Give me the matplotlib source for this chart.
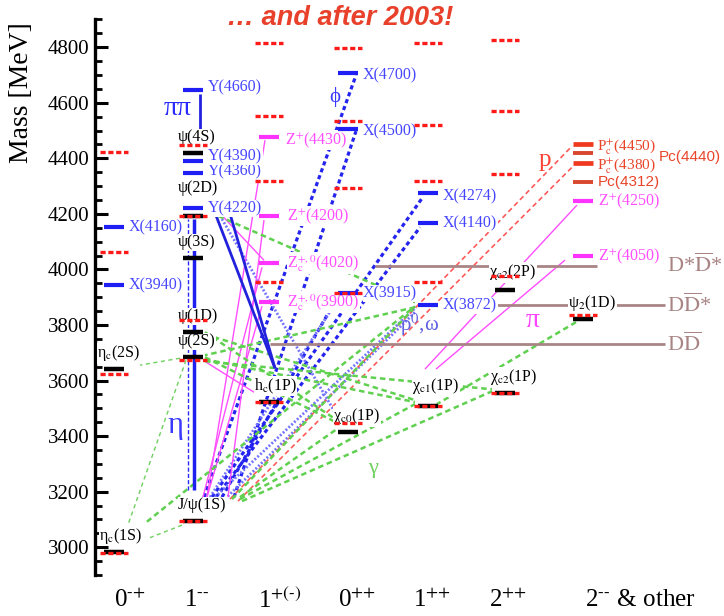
import matplotlib
matplotlib.use('Agg')
import matplotlib.pyplot as plt
from matplotlib.ticker import MultipleLocator

plt.rcParams['font.family'] = ['Liberation Serif', 'DejaVu Serif']
plt.rcParams['mathtext.fontset'] = 'stix'

# ------------------------------------------------------------------ data
categories = ['0-+', '1--', '1+-', '0++', '1++', '2++', '2--']
category_labels = ['0$^{\\text{-+}}$', '1$^{\\text{--}}$', '1$^{\\text{+(-)}}$', '0$^{\\text{++}}$',
                   '1$^{\\text{++}}$', '2$^{\\text{++}}$', '2$^{\\text{--}}$ & other']

# predicted (potential-model) levels, red dashed
pred_jpc = ['0-+', '0-+', '0-+', '0-+',
            '1--', '1--', '1--', '1--', '1--',
            '1+-', '1+-', '1+-', '1+-', '1+-',
            '0++', '0++', '0++', '0++', '0++',
            '1++', '1++', '1++', '1++', '1++',
            '2++', '2++', '2++', '2++', '2++',
            '2--']
pred_mass = [2978, 3623, 4062, 4422,
             3094, 3673, 3817, 4192, 4447,
             3522, 3954, 4318, 4552, 4814,
             3446, 3914, 4292, 4534, 4796,
             3508, 3954, 4318, 4519, 4814,
             3554, 3976, 4343, 4570, 4825,
             3835]

# observed states
state_names = ['etac1S', 'etac2S', 'X3940', 'X4160',
               'Jpsi', 'psi2S', 'psi1D', 'psi3S', 'psi4160', 'psi4S',
               'Y4220', 'Y4360', 'Y4390', 'Y4660',
               'hc', 'Zc3900', 'Zc4020', 'Z4200', 'Z4430',
               'chic0', 'X3915', 'X4500', 'X4700',
               'chic1', 'X3872', 'X4140', 'X4274',
               'chic2_1P', 'chic2_2P',
               'psi2_1D', 'Z4050', 'Z4250', 'Pc4312', 'Pc4380', 'Pc4440', 'Pc4450']
state_labels = ['η$_\\mathrm{c}$(1S)', 'η$_\\mathrm{c}$(2S)', 'X(3940)', 'X(4160)',
                'J/ψ(1S)', 'ψ(2S)', 'ψ(1D)', 'ψ(3S)', 'ψ(2D)', 'ψ(4S)',
                'Y(4220)', 'Y(4360)', 'Y(4390)', 'Y(4660)',
                'h$_\\mathrm{c}$(1P)', 'Z$_\\mathrm{c}^{+,0}$(3900)', 'Z$_\\mathrm{c}^{+,0}$(4020)',
                'Z$^{+}$(4200)', 'Z$^{+}$(4430)',
                'χ$_\\mathrm{c0}$(1P)', 'X(3915)', 'X(4500)', 'X(4700)',
                'χ$_\\mathrm{c1}$(1P)', 'X(3872)', 'X(4140)', 'X(4274)',
                'χ$_\\mathrm{c2}$(1P)', 'χ$_\\mathrm{c2}$(2P)',
                'ψ$_2$(1D)', 'Z$^{+}$(4050)', 'Z$^{+}$(4250)', 'Pc(4312)',
                'P$_\\mathrm{c}^{+}$(4380)', 'Pc(4440)', 'P$_\\mathrm{c}^{+}$(4450)']
state_mass = [2984, 3641, 3943, 4152,
              3094, 3684, 3774, 4040, 4192, 4418,
              4220, 4346, 4390, 4645,
              3522, 3882, 4022, 4192, 4476,
              3414, 3914, 4505, 4706,
              3508, 3871, 4166, 4274,
              3554, 3925,
              3821, 4048, 4246, 4314, 4382, 4418, 4451]
state_jpc = ['0-+'] * 4 + ['1--'] * 10 + ['1+-'] * 5 + ['0++'] * 4 + ['1++'] * 4 + \
            ['2++'] * 2 + ['2--'] * 7
state_kind = ['cc', 'cc', 'X', 'X',
              'cc', 'cc', 'cc', 'cc', 'cc', 'cc',
              'X', 'X', 'X', 'X',
              'cc', 'Z', 'Z', 'Z', 'Z',
              'cc', 'X', 'X', 'X',
              'cc', 'X', 'X', 'X',
              'cc', 'cc',
              'cc', 'Z', 'Z', 'Pc2', 'Pc', 'Pc2', 'Pc']

threshold_labels = ['D$\\overline{\\mathrm{D}}$', 'D$\\overline{\\mathrm{D}}$*',
                    'D*$\\overline{\\mathrm{D}}$*']
threshold_mass = [3731, 3871, 4014]

# transitions: (from, to, type)
transitions = [
    ('Jpsi', 'X4700', 'phi'), ('Jpsi', 'X4500', 'phi'), ('Jpsi', 'X4274', 'phi'),
    ('Jpsi', 'X4140', 'phi'), ('Jpsi', 'X3915', 'phi'),
    ('Jpsi', 'X3872', 'rho'), ('Jpsi', 'X3872', 'rho'), ('Jpsi', 'X3915', 'rho'),
    ('Y4220', 'chic0', 'rho'),
    ('Jpsi', 'Pc4450', 'p'), ('Jpsi', 'Pc4380', 'p'),
    ('Jpsi', 'Z4430', 'pi'), ('Jpsi', 'Z4200', 'pi'), ('Jpsi', 'Zc3900', 'pi'),
    ('Jpsi', 'Zc4020', 'pi'), ('psi2S', 'hc', 'pi'), ('Y4220', 'Zc4020', 'pi'),
    ('Z4250', 'chic1', 'pi'), ('Z4050', 'chic1', 'pi'),
    ('Jpsi', 'etac1S', 'gam_thin'), ('psi2S', 'etac1S', 'gam_thin'),
    ('psi2S', 'etac2S', 'gam_thin'), ('etac1S', 'X3872', 'gam'),
    ('Jpsi', 'chic0', 'gam'), ('Jpsi', 'chic1', 'gam'), ('Jpsi', 'chic2_1P', 'gam'),
    ('Jpsi', 'X3872', 'gam'),
    ('psi2S', 'chic0', 'gam'), ('psi2S', 'chic1', 'gam'), ('psi2S', 'chic2_1P', 'gam'),
    ('psi1D', 'chic0', 'gam'), ('psi1D', 'chic1', 'gam'),
    ('X3872', 'psi2S', 'gam'), ('Y4220', 'X3872', 'gam'), ('psi2_1D', 'chic1', 'gam'),
    ('Y4220', 'hc', 'pipi'), ('Y4220', 'hc', 'pipi'),
    ('Jpsi', 'psi4160', 'eta_dash'), ('Jpsi', 'psi4160', 'eta_solid'),
    ('Y4660', 'psi4S', 'pipi'),
]

# ------------------------------------------------------------------ layout
PX = 3.6                      # MeV per pixel (vertical)
col_x = {'0-+': 114, '1--': 193, '1+-': 269, '0++': 348,
         '1++': 428, '2++': 505, '2--': 583}
bar_half = 10
pred_half = 14
# endpoint offsets (dx px, dy px up) for from / to
trans_offsets = [
    (11, 24, 8, -2), (41, 24, 8, -2), (19, 24, -6, -5), (23, 24, -8, -4), (29, 24, -10, -3),
    (22, 24, -12, -2), (32, 22, -12, -6), (17, 24, -10, -6), (25, -4, -5, 6),
    (37, 22, -11, -2), (45, 20, -11, -4),
    (14, 24, -4, -3), (35, 24, -5, -4), (14, 24, -7, -4), (10, 24, -7, -4),
    (10, -3, -15, 10), (26, -4, -5, 3), (-6, -4, -3, 37), (-18, -4, 8, 37),
    (-11, -4, 36, 14), (-7, -3, 13, 24), (-13, -1, 26, 4), (33, 30, -13, -1),
    (47, 24, -10, 4), (47, 22, -13, 2), (49, 20, -13, 2), (39, 22, -15, -4),
    (12, 0, -8, 8), (12, -2, -13, 4), (12, -4, -13, 4),
    (12, 0, -8, 10), (12, -2, -13, 6),
    (-13, -2, 12, 2), (17, -4, -13, 3), (-7, -3, 9, 2),
    (21, -2, 6, 34), (36, -2, 6, 34),
    (-5, 31, -5, -3), (1, 31, 1, -3),
    (7, -4, 7, 23),
]
trans_style = {
    'phi': dict(color='#2424ee', lw=2.3, ls=(0, (1.3, 1.0))),
    'rho': dict(color='#7373ff', lw=2.0, ls=(0, (0.7, 0.7))),
    'p': dict(color='#ff5a5a', lw=1.2, ls=(0, (3, 2))),
    'pi': dict(color='#ff4dff', lw=1.0, ls='-'),
    'gam': dict(color='#5fd04f', lw=1.8, ls=(0, (2.2, 1.5))),
    'gam_thin': dict(color='#6fd060', lw=1.0, ls=(0, (3, 2.5))),
    'pipi': dict(color='#2222dd', lw=2.0, ls='-'),
    'eta_dash': dict(color='#2a2aff', lw=1.0, ls=(0, (3, 1.5))),
    'eta_solid': dict(color='#1f1ff0', lw=2.5, ls='-'),
}
kind_bar = {'cc': ('black', 3.2), 'X': ('#1f1ff5', 3.0), 'Z': ('#ff33ff', 3.0),
            'Pc': ('#f03a20', 3.4), 'Pc2': ('#d8472e', 2.8)}
kind_text = {'cc': 'black', 'X': '#4646ff', 'Z': '#ff4dff', 'Pc': '#e8452a', 'Pc2': '#e8452a'}
label_exc = {'psi4160': (-15, 28), 'Y4360': (15, 2), 'Y4390': (15, 5), 'Y4660': (15, 3),
             'Z4430': (16, -3), 'Pc4450': (14, -3), 'Pc4380': (14, -3), 'Pc4440': (76, -4),
             'X4700': (15, -2), 'X4500': (15, -2), 'X4274': (15, -3), 'etac2S': (-17, 16),
             'Zc3900': (18, 0), 'Zc4020': (18, 0), 'Z4200': (18, 0), 'X3872': (15, 0),
             'chic1': (-16, 20), 'chic2_2P': (-16, 18)}

state_x = {n: col_x[j] for n, j in zip(state_names, state_jpc)}
state_m = dict(zip(state_names, state_mass))

# ------------------------------------------------------------------ figure
fig = plt.figure(figsize=(7.24, 6.16), dpi=100)
ax = fig.add_axes([95 / 724, 1 - 575 / 616, 1 - 95 / 724, (575 - 19.4) / 616])
ax.set_xlim(95, 724)
ax.set_ylim(2900, 4900)
for s in ['top', 'right', 'bottom']:
    ax.spines[s].set_visible(False)
ax.spines['left'].set_linewidth(2.4)
ax.set_xticks([])
ax.yaxis.set_major_locator(MultipleLocator(200))
ax.yaxis.set_minor_locator(MultipleLocator(50))
ax.tick_params(axis='y', which='major', direction='in', length=9, width=2.2,
               labelsize=15, pad=4)
ax.tick_params(axis='y', which='minor', direction='in', length=5, width=2.0)


def pt(name, dx, dy):
    return state_x[name] + dx, state_m[name] + dy * PX


# transitions
for (a, b, t), (dxa, dya, dxb, dyb) in zip(transitions, trans_offsets):
    xa, ya = pt(a, dxa, dya)
    xb, yb = pt(b, dxb, dyb)
    st = trans_style[t]
    ax.plot([xa, xb], [ya, yb], color=st['color'], lw=st['lw'], ls=st['ls'],
            zorder=1, solid_capstyle='butt', dash_capstyle='butt')

# thresholds
thr_x = [(270, 665), (443, 665), (375, 597)]
for (x0, x1), m, lab in zip(thr_x, threshold_mass, threshold_labels):
    ax.plot([x0, x1], [m, m], color='#a88484', lw=2.0, zorder=2, solid_capstyle='butt')
    ax.text(667, m, lab, color='#a88484', fontsize=16, va='center', ha='left',
            clip_on=False, zorder=3)

# labels of states
bb = dict(facecolor='white', edgecolor='none', pad=0.3)
for n, lab, k in zip(state_names, state_labels, state_kind):
    if n in label_exc:
        dx, dy = label_exc[n]
    elif k == 'cc':
        dx, dy = -15, 16
    else:
        dx, dy = bar_half + 5, 0
    fam = ['Liberation Sans'] if lab.startswith('Pc') else ['Liberation Serif', 'DejaVu Serif']
    fs = 11.0 if k in ('Pc', 'Pc2') else 11.5
    ax.text(state_x[n] + dx, state_m[n] + dy * PX, lab, color=kind_text[k],
            fontsize=fs, family=fam, ha='left', va='center', bbox=bb, zorder=3,
            clip_on=False)

# observed bars
for n, k in zip(state_names, state_kind):
    c, lw = kind_bar[k]
    x = state_x[n]
    ax.plot([x - bar_half, x + bar_half], [state_m[n]] * 2, color=c, lw=lw,
            solid_capstyle='butt', zorder=4)

# predicted levels
for j, m in zip(pred_jpc, pred_mass):
    x = col_x[j]
    ax.plot([x - pred_half, x + pred_half], [m, m], color='#ff1a1a', lw=2.4,
            ls=(0, (1.55, 0.8)), zorder=5, dash_capstyle='butt')

# transition-type labels
ax.text(175, 3000 + (547 - 425) * PX, 'η', color='#3a3aff', fontsize=22, ha='center', va='center')
ax.text(178, 3000 + (547 - 108) * PX, 'ππ', color='#2a2aff', fontsize=20, ha='center', va='center')
ax.text(335, 3000 + (547 - 97) * PX, 'ϕ', color='#3a3aff', fontsize=15, ha='center', va='center')
ax.text(373, 3000 + (547 - 468) * PX, 'γ', color='#6fd060', fontsize=16, ha='center', va='center')
ax.text(533, 3000 + (547 - 320) * PX, 'π', color='#ff44ff', fontsize=20, ha='center', va='center')
ax.text(545, 3000 + (547 - 160) * PX, 'p', color='#ff4030', fontsize=18, ha='center', va='center')
ax.text(420, 3000 + (547 - 325) * PX, 'ρ$^0$,ω', color='#6060e0', fontsize=15,
        ha='center', va='center')

# category labels
cat_x = [130, 197, 280, 357, 432, 508, 640]
for x, lab in zip(cat_x, category_labels):
    ax.text(x, 3000 + (547 - 600) * PX, lab, fontsize=18, ha='center', va='center',
            clip_on=False)

fig.text(22 / 724, 1 - 93 / 616, 'Mass [MeV]', rotation=90, fontsize=20,
         ha='center', va='center')
fig.text(340 / 724, 1 - 18 / 616, '… and after 2003!', fontsize=19.5, fontweight='bold',
         fontstyle='italic', family='Liberation Sans', color='#e8402a',
         ha='center', va='center')

fig.savefig('out.png', dpi=100)
